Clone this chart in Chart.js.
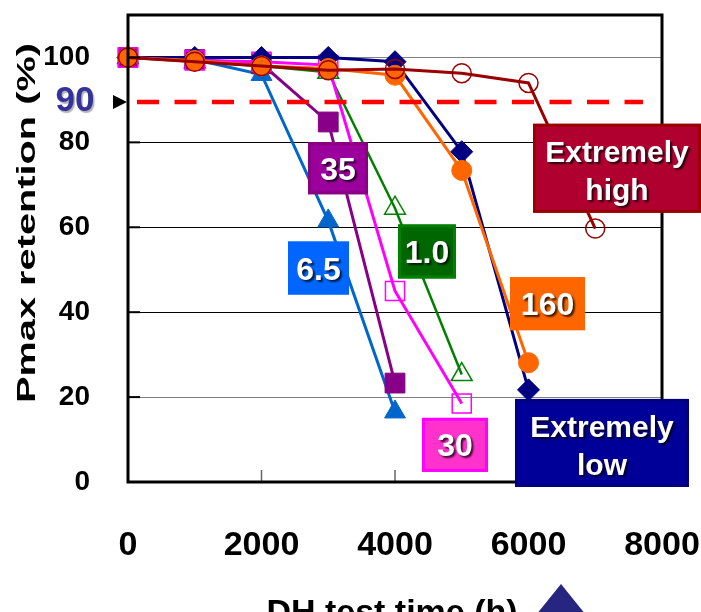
<!DOCTYPE html>
<html>
<head>
<meta charset="utf-8">
<script src="https://cdn.jsdelivr.net/npm/chart.js@4.4.0/dist/chart.umd.min.js"></script>
<style>
    html, body { margin: 0; padding: 0; background: #ffffff; }
    #grafico { display: block; }
</style>
</head>
<body>
<canvas id="grafico" width="701" height="612"></canvas>
<script>
/* DADOS DO GRAFICO */
const horas = [0, 1000, 2000, 3000, 4000, 5000, 6000, 7000];
const extremamenteAlto = [100, 99, 98, 97, 97.3, 96.3, 94, 59.7];
const extremamenteBaixo = [100, 100, 100, 100, 99, 77.8, 21.7];
const serie160 = [100, 99.3, 98, 97.4, 95.8, 73.4, 28.1];
const serie1_0 = [100, 99, 98, 96.5, 64.5, 25.3];
const serie30 = [100, 99.3, 99, 98.2, 45, 18.5];
const serie35 = [100, 99.5, 98.5, 84.8, 23.3];
const serie6_5 = [100, 99.5, 96, 61.5, 16.5];
const limite = 89.5;            // linha tracejada dos 90 %
const limiteInicio = 135;
const limiteFim = 7715;
const ticksX = [0, 2000, 4000, 6000, 8000];
const ticksY = [0, 20, 40, 60, 80, 100];

const fonte = '"Liberation Sans", Arial, sans-serif';

// caixas com os nomes das curvas (posicao em valores dos eixos)
const caixas = [
    { texto: ['35'], x: 3146, y: 73.9, w: 60, h: 52, fundo: '#9C009C', borda: '#880080' },
    { texto: ['6.5'], x: 2854, y: 50.4, w: 61, h: 53, fundo: '#0066FF', borda: '#0066FF' },
    { texto: ['1.0'], x: 4479, y: 54.3, w: 58, h: 54, fundo: '#006600', borda: '#008000' },
    { texto: ['160'], x: 6285, y: 42.0, w: 75, h: 53, fundo: '#FF6600', borda: '#FF6600' },
    { texto: ['30'], x: 4899, y: 8.75, w: 66, h: 54, fundo: '#FF33CC', borda: '#FF00FF' },
    { texto: ['Extremely', 'low'], x: 7101, y: 9.2, w: 174, h: 88, fundo: '#000099', borda: '#000080' },
    { texto: ['Extremely', 'high'], x: 7326, y: 73.9, w: 168, h: 89, fundo: '#B0002F', borda: '#990000' }
];

function pontos(valores) {
    return valores.map(function (v, i) { return { x: horas[i], y: v }; });
}

function serie(valores, cor, estilo, raio, cheio, ordem) {
    return {
        data: pontos(valores),
        borderColor: cor,
        borderWidth: 3,
        pointStyle: estilo,
        pointRadius: raio,
        pointBackgroundColor: cheio ? cor : 'rgba(0,0,0,0)',
        pointBorderColor: cor,
        pointBorderWidth: cheio ? 1 : 1.5,
        tension: 0,
        clip: false,
        order: ordem
    };
}

let datasets = [
    {
        data: [{ x: limiteInicio, y: limite }, { x: limiteFim, y: limite }],
        borderColor: '#FF0000',
        borderWidth: 4.5,
        borderDash: [22, 15.5],
        pointRadius: 0,
        clip: false,
        order: 0
    },
    serie(extremamenteAlto, '#990000', 'circle', 9.5, false, 1),
    serie(serie160, '#FF6600', 'circle', 10, true, 2),
    serie(extremamenteBaixo, '#000080', 'rectRot', 11, true, 3),
    serie(serie30, '#FF00FF', 'rect', 13.5, false, 4),
    serie(serie35, '#880088', 'rect', 14, true, 5),
    serie(serie1_0, '#008000', 'triangle', 12, false, 6),
    serie(serie6_5, '#0066CC', 'triangle', 12, true, 7)
];
datasets[6].borderWidth = 2.5;

// desenha texto esticado para caber na largura certa
function textoEsticado(ctx, texto, x, y, largura) {
    let w = ctx.measureText(texto).width;
    ctx.save();
    ctx.translate(x, y);
    ctx.scale(largura / w, 1);
    ctx.fillText(texto, 0, 0);
    ctx.restore();
}

const extras = {
    id: 'extras',
    afterDatasetsDraw: function (chart) {
        const ctx = chart.ctx;
        const a = chart.chartArea;
        const sx = chart.scales.x;
        const sy = chart.scales.y;

        // tracinhos internos
        ctx.save();
        ctx.strokeStyle = '#000';
        ctx.lineWidth = 2;
        ticksY.forEach(function (v) {
            let py = sy.getPixelForValue(v);
            ctx.beginPath(); ctx.moveTo(a.left, py); ctx.lineTo(a.left + 12, py); ctx.stroke();
        });
        ctx.strokeStyle = '#666';
        ctx.lineWidth = 1.5;
        ticksX.slice(1, 4).forEach(function (v) {
            let px = sx.getPixelForValue(v);
            ctx.beginPath(); ctx.moveTo(px, a.bottom); ctx.lineTo(px, a.bottom - 12); ctx.stroke();
        });

        // moldura
        ctx.strokeStyle = '#000';
        ctx.lineWidth = 3;
        ctx.strokeRect(a.left, a.top, a.right - a.left, a.bottom - a.top);

        // caixas
        caixas.forEach(function (c) {
            let cx = sx.getPixelForValue(c.x);
            let cy = sy.getPixelForValue(c.y);
            let x0 = cx - c.w / 2, y0 = cy - c.h / 2;
            ctx.fillStyle = c.fundo;
            ctx.fillRect(x0, y0, c.w, c.h);
            ctx.strokeStyle = c.borda;
            ctx.lineWidth = 3;
            ctx.strokeRect(x0 + 1.5, y0 + 1.5, c.w - 3, c.h - 3);

            ctx.save();
            ctx.fillStyle = '#FFFFFF';
            ctx.textAlign = 'center';
            ctx.textBaseline = 'alphabetic';
            ctx.shadowColor = 'rgba(0,0,0,0.75)';
            ctx.shadowOffsetX = 2;
            ctx.shadowOffsetY = 2;
            ctx.shadowBlur = 2;
            if (c.texto.length == 1) {
                ctx.font = 'bold 32px ' + fonte;
                ctx.fillText(c.texto[0], cx, cy + 11.5);
            } else {
                ctx.font = 'bold 30px ' + fonte;
                ctx.fillText(c.texto[0], cx, cy - 6);
                ctx.fillText(c.texto[1], cx, cy + 32);
            }
            ctx.restore();
        });
        ctx.restore();
    },
    afterDraw: function (chart) {
        const ctx = chart.ctx;
        const sy = chart.scales.y;
        ctx.save();

        // "90" azul e a setinha
        let p90 = sy.getPixelForValue(limite);
        ctx.font = 'bold 35px ' + fonte;
        ctx.fillStyle = '#333399';
        ctx.textAlign = 'center';
        ctx.textBaseline = 'alphabetic';
        ctx.shadowColor = 'rgba(0,0,0,0.3)';
        ctx.shadowOffsetX = 1.5;
        ctx.shadowOffsetY = 1.5;
        ctx.shadowBlur = 1;
        ctx.fillText('90', 75, p90 + 9);
        ctx.shadowColor = 'rgba(0,0,0,0)';
        ctx.fillStyle = '#000';
        ctx.beginPath();
        ctx.moveTo(113, p90 - 7); ctx.lineTo(127, p90); ctx.lineTo(113, p90 + 7);
        ctx.closePath(); ctx.fill();

        // titulos dos eixos
        ctx.fillStyle = '#000';
        ctx.font = 'bold 34px ' + fonte;
        ctx.textAlign = 'center';
        ctx.fillText('DH test time (h)', 392, 623);

        ctx.save();
        ctx.translate(35, 223);
        ctx.rotate(-Math.PI / 2);
        ctx.font = 'bold 26px ' + fonte;
        textoEsticado(ctx, 'Pmax retention (%)', 0, 0, 360);
        ctx.restore();

        // triangulo azul no canto de baixo
        ctx.fillStyle = '#262680';
        ctx.beginPath();
        ctx.moveTo(561, 584); ctx.lineTo(536, 615); ctx.lineTo(586, 615);
        ctx.closePath(); ctx.fill();

        ctx.restore();
    }
};

const config = {
    type: 'line',
    data: { datasets: datasets },
    options: {
        responsive: false,
        animation: false,
        layout: { padding: { top: 12, right: 39, left: 0, bottom: 0 } },
        scales: {
            x: {
                type: 'linear',
                min: 0,
                max: 8000,
                afterFit: function (scale) { scale.height = 130; },
                afterBuildTicks: function (scale) { scale.ticks = ticksX.map(function (v) { return { value: v }; }); },
                grid: { display: true, color: 'rgba(0,0,0,0)', drawTicks: true, tickLength: 43, tickColor: 'rgba(0,0,0,0)' },
                border: { display: false },
                ticks: {
                    padding: 0,
                    maxRotation: 0,
                    color: '#000',
                    font: { family: fonte, size: 34, weight: 'bold' },
                    callback: function (v) { return String(v); }
                }
            },
            y: {
                min: 0,
                max: 110,
                afterFit: function (scale) { scale.width = 128; },
                afterBuildTicks: function (scale) { scale.ticks = ticksY.map(function (v) { return { value: v }; }); },
                grid: {
                    drawTicks: true,
                    tickLength: 38,
                    tickColor: 'rgba(0,0,0,0)',
                    lineWidth: 1,
                    color: function (c) { return (c.tick && (c.tick.value == 20 || c.tick.value == 100)) ? '#808080' : '#000000'; }
                },
                border: { display: false },
                ticks: {
                    padding: 0,
                    color: '#000',
                    font: { family: fonte, size: 28, weight: 'bold', lineHeight: 0.5 }
                }
            }
        },
        plugins: {
            legend: { display: false },
            tooltip: { enabled: false },
            title: { display: false }
        }
    },
    plugins: [extras]
};

var grafico = new Chart(document.getElementById('grafico').getContext('2d'), config);
</script>
</body>
</html>
